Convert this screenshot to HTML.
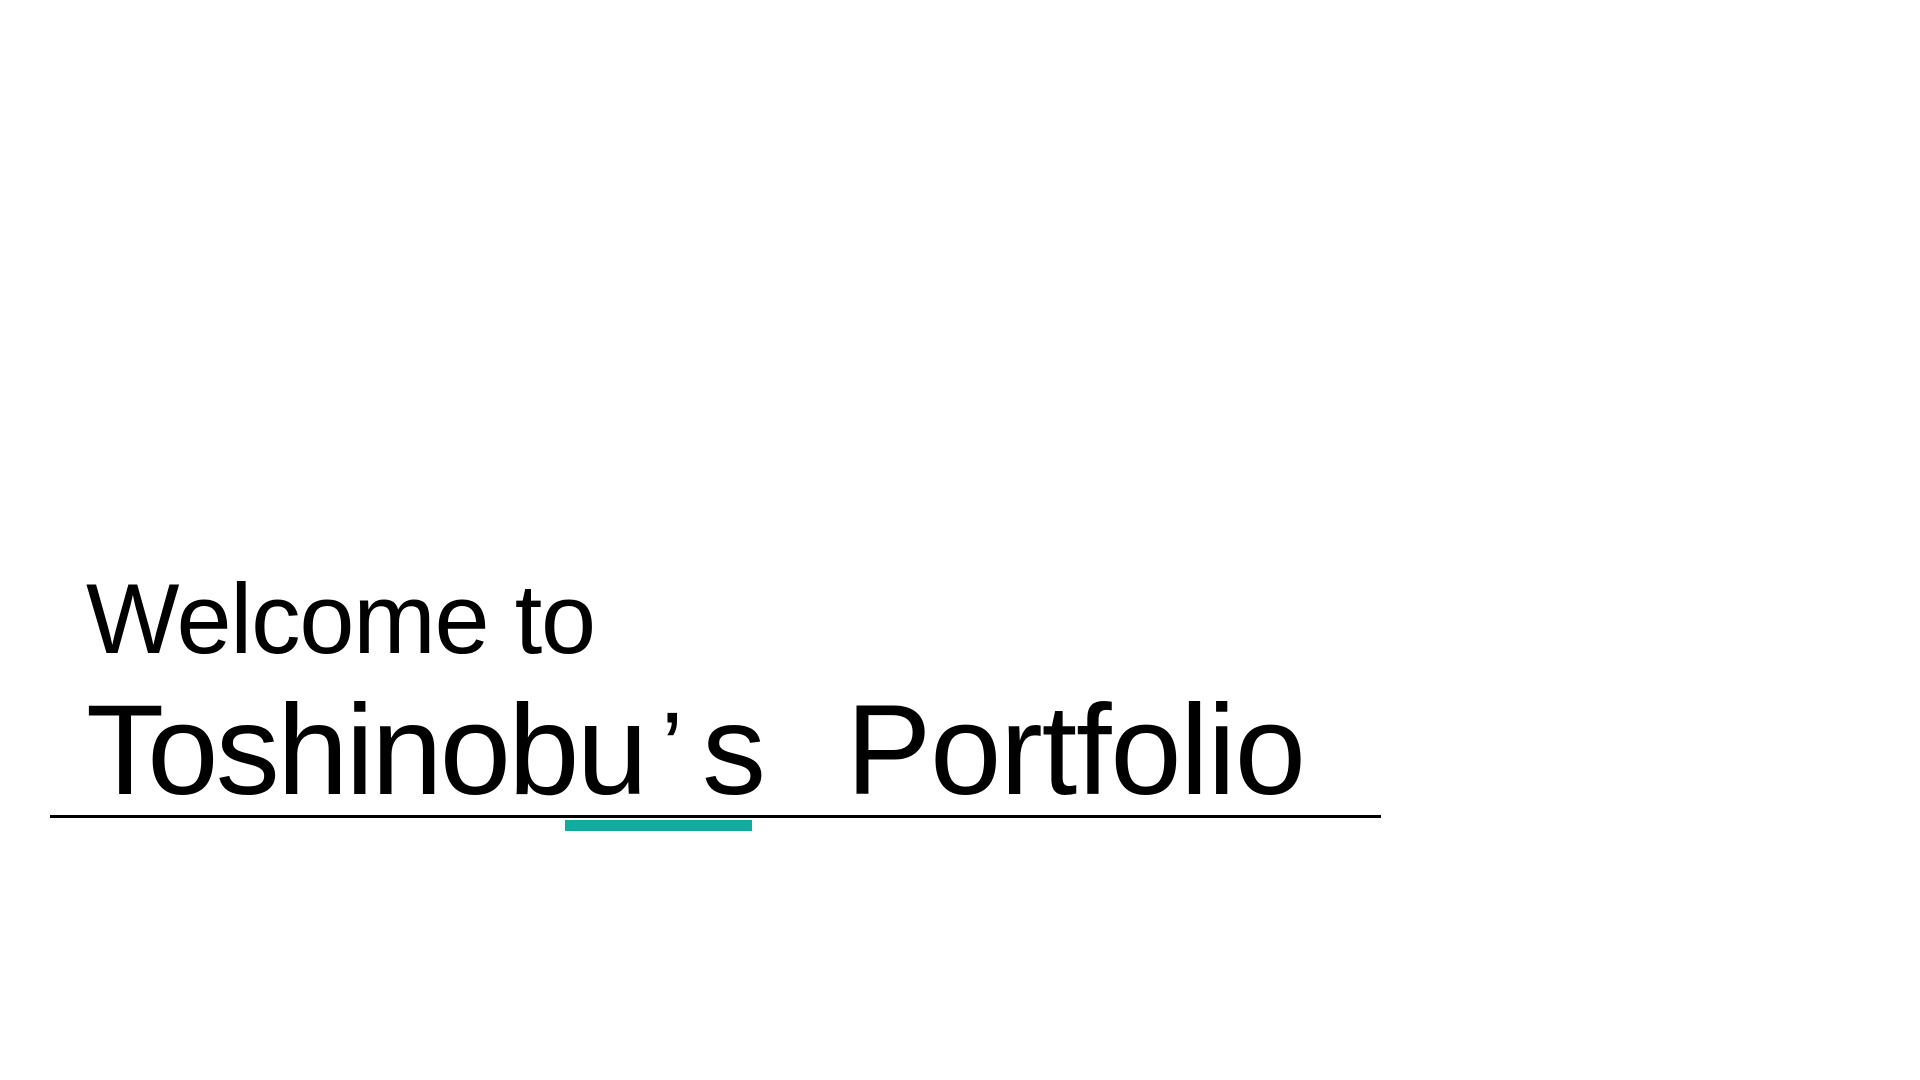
<!DOCTYPE html>
<html><head><meta charset="utf-8"><style>
html,body{margin:0;padding:0;background:#fff;}
body{width:1920px;height:1080px;position:relative;overflow:hidden;font-family:"Liberation Sans",sans-serif;color:#000;}
.t{position:absolute;white-space:nowrap;line-height:1;}
#w{font-size:99px;top:569px;left:86px;letter-spacing:-1.2px;}
.p{font-size:128px;top:687px;}
#ap{font-size:100px;top:698px;left:661px;}
#line{position:absolute;left:50px;top:815px;width:1331px;height:3px;background:#000;}
#bar{position:absolute;left:565px;top:820px;width:187px;height:11px;background:#0fada0;}
</style></head><body>
<div class="t" id="w">Welcome to</div>
<div class="t p" style="left:86px;letter-spacing:-2.7px">Toshinobu</div>
<div class="t" id="ap">’</div>
<div class="t p" style="left:702px">s</div>
<div class="t p" style="left:846px;letter-spacing:-1.2px">Portfolio</div>
<div id="line"></div>
<div id="bar"></div>
</body></html>
